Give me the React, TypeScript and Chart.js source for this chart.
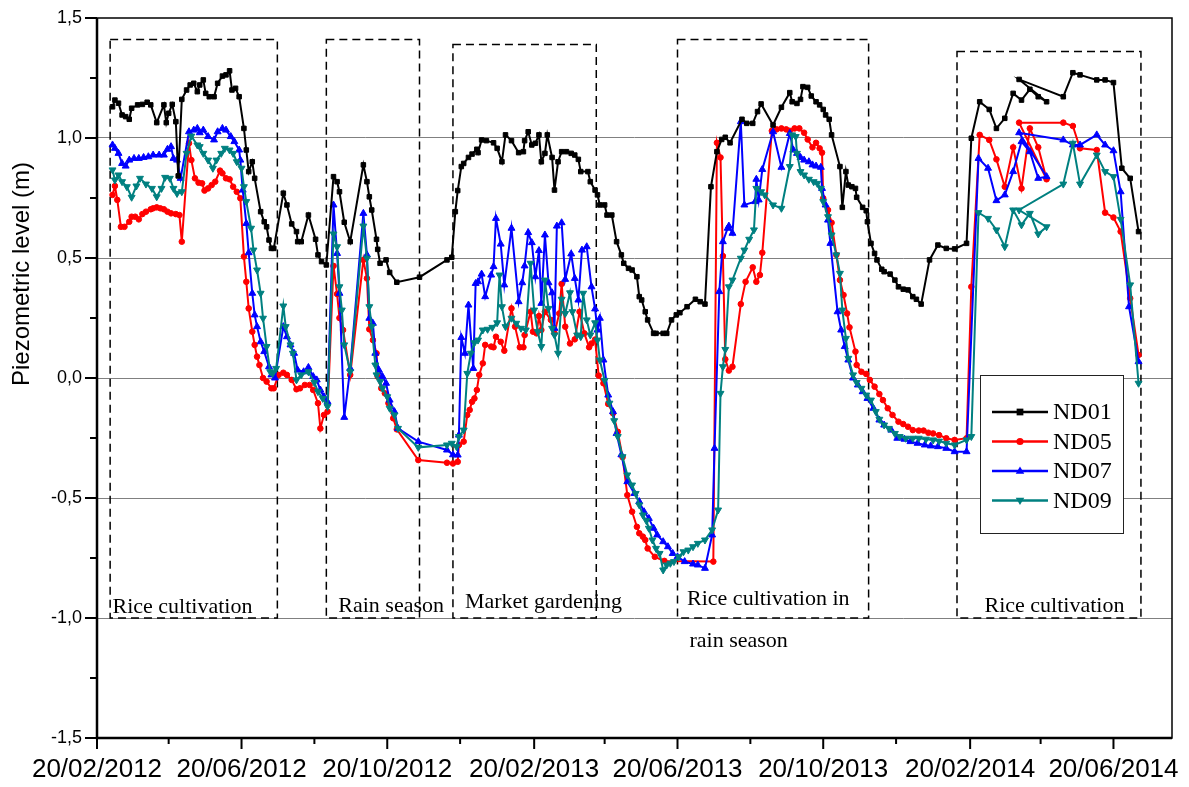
import React, { useEffect, useRef } from "react";
import { Chart, registerables } from "chart.js";

Chart.register(...registerables);

// ---------- DATA ----------
// x values are days counted from 20/02/2012; y values are piezometric levels (m)
const ORIGIN_DATE = "20/02/2012";
const X_MAJOR_TICK_LABELS = ["20/02/2012", "20/06/2012", "20/10/2012", "20/02/2013", "20/06/2013", "20/10/2013", "20/02/2014", "20/06/2014"];
const X_MINOR_TICK_DATES = ["20/04/2012", "20/08/2012", "20/12/2012", "20/04/2013", "20/08/2013", "20/12/2013", "20/04/2014"];
const X_END_DAY = 900;
const Y_MIN = -1.5;
const Y_MAX = 1.5;
const Y_MAJOR_STEP = 0.5;
const Y_MINOR_STEP = 0.25;

const ND01: [number, number][] = [
  [13, 1.13], [15, 1.158], [18, 1.145], [21, 1.096], [24, 1.089], [27, 1.078], [29, 1.124], [34, 1.138], [38, 1.14], [42, 1.149],
  [45, 1.138], [50, 1.064], [56, 1.138], [58, 1.064], [60, 1.103], [63, 1.14], [66, 1.068], [68, 0.842], [71, 1.161], [75, 1.2],
  [78, 1.221], [81, 1.228], [84, 1.193], [86, 1.221], [89, 1.242], [91, 1.186], [94, 1.172], [98, 1.172], [101, 1.228], [105, 1.258],
  [108, 1.263], [111, 1.28], [113, 1.2], [116, 1.207], [119, 1.172], [123, 1.04], [125, 0.95], [127, 0.86], [130, 0.901], [132, 0.832],
  [137, 0.693], [140, 0.651], [142, 0.63], [144, 0.575], [146, 0.54], [148, 0.54], [156, 0.77], [159, 0.721], [163, 0.642], [167, 0.61],
  [168, 0.568], [171, 0.568], [177, 0.679], [183, 0.578], [185, 0.513], [188, 0.485], [192, 0.471], [198, 0.839], [201, 0.818], [203, 0.776],
  [207, 0.649], [212, 0.568], [223, 0.888], [226, 0.818], [228, 0.755], [230, 0.7], [234, 0.578], [235, 0.536], [237, 0.478], [242, 0.492],
  [245, 0.44], [251, 0.399], [270, 0.42], [293, 0.492], [297, 0.503], [300, 0.693], [302, 0.781], [305, 0.881], [307, 0.894], [311, 0.919],
  [314, 0.933], [318, 0.953], [319, 0.939], [322, 0.992], [326, 0.989], [332, 0.98], [335, 0.957], [339, 0.901], [342, 1.013], [347, 0.989],
  [353, 0.939], [357, 0.943], [358, 0.989], [361, 1.026], [364, 0.971], [367, 0.978], [370, 1.013], [372, 0.901], [375, 0.936], [377, 1.013],
  [381, 0.919], [383, 0.783], [386, 0.901], [389, 0.943], [393, 0.943], [397, 0.936], [400, 0.929], [403, 0.911], [405, 0.86], [411, 0.86],
  [413, 0.818], [417, 0.783], [419, 0.763], [421, 0.721], [425, 0.721], [427, 0.679], [431, 0.679], [435, 0.568], [439, 0.513], [441, 0.478],
  [445, 0.457], [448, 0.45], [452, 0.422], [454, 0.339], [456, 0.325], [459, 0.276], [461, 0.242], [466, 0.186], [468, 0.186], [474, 0.186],
  [477, 0.186], [481, 0.242], [485, 0.263], [488, 0.272], [494, 0.297], [501, 0.328], [505, 0.318], [509, 0.308], [514, 0.797], [519, 0.943],
  [523, 0.994], [526, 1.003], [530, 0.98], [540, 1.078], [544, 1.061], [549, 1.061], [553, 1.11], [556, 1.142], [566, 1.054], [573, 1.128],
  [580, 1.189], [582, 1.151], [586, 1.144], [589, 1.161], [591, 1.214], [595, 1.211], [598, 1.175], [602, 1.151], [605, 1.138], [608, 1.119],
  [610, 1.096], [613, 1.078], [615, 1.013], [622, 0.881], [624, 0.711], [627, 0.86], [629, 0.804], [632, 0.797], [635, 0.79], [636, 0.753],
  [641, 0.711], [644, 0.697], [645, 0.651], [648, 0.561], [651, 0.519], [653, 0.492], [657, 0.453], [659, 0.443], [664, 0.433], [668, 0.408],
  [671, 0.38], [675, 0.37], [679, 0.367], [683, 0.339], [686, 0.328], [690, 0.308], [697, 0.492], [704, 0.554], [711, 0.54], [718, 0.538],
  [728, 0.561], [732, 0.999], [739, 1.151], [747, 1.119], [753, 1.04], [760, 1.082], [767, 1.186], [774, 1.158], [781, 1.203], [788, 1.172],
  [795, 1.151], [772, 1.244], [809, 1.172], [817, 1.272], [823, 1.263], [837, 1.242], [844, 1.242], [851, 1.231], [858, 0.874], [865, 0.832],
  [872, 0.61],
];

const ND05: [number, number][] = [
  [13, 0.763], [15, 0.8], [17, 0.742], [20, 0.63], [23, 0.63], [27, 0.651], [29, 0.672], [32, 0.672], [35, 0.661], [38, 0.683],
  [41, 0.693], [45, 0.703], [47, 0.707], [50, 0.711], [53, 0.707], [56, 0.703], [59, 0.693], [62, 0.686], [66, 0.683], [69, 0.679],
  [71, 0.568], [77, 0.978], [79, 0.908], [82, 0.832], [85, 0.814], [88, 0.811], [90, 0.781], [93, 0.79], [96, 0.804], [99, 0.818],
  [103, 0.864], [105, 0.853], [108, 0.832], [111, 0.828], [114, 0.797], [117, 0.776], [120, 0.749], [123, 0.506], [125, 0.401], [127, 0.29],
  [130, 0.193], [132, 0.138], [134, 0.089], [136, 0.054], [139, 0.0], [142, -0.015], [146, -0.043], [148, -0.043], [152, 0.013], [156, 0.022],
  [159, 0.013], [163, -0.008], [167, -0.047], [170, -0.043], [174, -0.029], [178, -0.029], [181, -0.05], [185, -0.105], [187, -0.21], [190, -0.154],
  [193, -0.14], [198, 0.467], [201, 0.35], [203, 0.25], [206, 0.2], [212, 0.013], [223, 0.492], [226, 0.415], [228, 0.203], [231, 0.158],
  [234, 0.103], [235, 0.006], [238, -0.043], [241, -0.064], [244, -0.105], [248, -0.168], [251, -0.214], [269, -0.342], [293, -0.353], [298, -0.356],
  [302, -0.349], [303, -0.279], [307, -0.265], [310, -0.154], [312, -0.133], [314, -0.099], [316, -0.085], [318, -0.05], [320, 0.013], [323, 0.061],
  [325, 0.138], [330, 0.131], [332, 0.128], [334, 0.172], [338, 0.151], [341, 0.114], [347, 0.29], [350, 0.214], [354, 0.128], [357, 0.128],
  [358, 0.179], [363, 0.276], [365, 0.193], [368, 0.186], [370, 0.258], [372, 0.2], [375, 0.276], [380, 0.242], [383, 0.186], [387, 0.269],
  [389, 0.392], [392, 0.214], [396, 0.144], [400, 0.161], [404, 0.276], [408, 0.186], [412, 0.128], [414, 0.144], [417, 0.16], [420, 0.01],
  [424, -0.022], [428, -0.108], [432, -0.147], [436, -0.224], [440, -0.33], [444, -0.488], [448, -0.557], [452, -0.62], [454, -0.647], [457, -0.661],
  [459, -0.675], [461, -0.71], [467, -0.745], [475, -0.762], [516, -0.765], [519, 0.98], [522, 0.919], [524, 0.508], [526, 0.078], [529, 0.031],
  [532, 0.047], [539, 0.308], [543, 0.401], [549, 0.461], [552, 0.401], [555, 0.429], [557, 0.522], [565, 1.03], [569, 1.036], [573, 1.04],
  [577, 1.036], [580, 1.03], [584, 1.04], [588, 1.04], [592, 1.022], [595, 0.994], [599, 0.961], [602, 0.98], [605, 0.957], [607, 0.939],
  [608, 0.749], [612, 0.7], [615, 0.647], [619, 0.513], [622, 0.408], [625, 0.346], [628, 0.269], [630, 0.211], [635, 0.11], [636, 0.054],
  [640, 0.026], [644, 0.017], [647, -0.008], [651, -0.036], [655, -0.067], [658, -0.092], [662, -0.126], [666, -0.154], [671, -0.182], [675, -0.192],
  [679, -0.203], [683, -0.217], [688, -0.219], [692, -0.219], [696, -0.228], [700, -0.231], [705, -0.238], [711, -0.251], [718, -0.258], [728, -0.251],
  [732, 0.38], [739, 1.013], [747, 0.992], [753, 0.911], [760, 0.797], [767, 0.961], [774, 0.79], [781, 1.04], [788, 0.961], [795, 0.828],
  [772, 1.064], [809, 1.064], [817, 1.05], [823, 0.957], [837, 0.95], [844, 0.689], [851, 0.669], [857, 0.61], [865, 0.332], [872, 0.096],
];

const ND07: [number, number][] = [
  [13, 0.971], [15, 0.957], [18, 0.936], [21, 0.894], [24, 0.883], [27, 0.908], [31, 0.915], [35, 0.915], [39, 0.919], [43, 0.922],
  [47, 0.929], [52, 0.929], [56, 0.929], [59, 0.953], [62, 0.964], [64, 0.915], [67, 0.908], [70, 0.832], [77, 1.026], [81, 1.033],
  [84, 1.04], [86, 1.022], [89, 1.033], [93, 1.006], [98, 0.992], [101, 1.026], [105, 1.04], [108, 1.033], [112, 1.006], [115, 0.985],
  [119, 0.95], [120, 0.908], [122, 0.783], [125, 0.644], [127, 0.522], [130, 0.353], [132, 0.263], [134, 0.214], [137, 0.151], [140, 0.11],
  [144, 0.047], [146, 0.013], [149, 0.0], [156, 0.214], [159, 0.172], [162, 0.138], [165, 0.103], [168, 0.033], [173, 0.026], [177, 0.044],
  [181, 0.006], [184, -0.008], [187, -0.05], [190, -0.078], [193, -0.099], [198, 0.721], [201, 0.519], [203, 0.353], [207, -0.164], [212, 0.04],
  [223, 0.686], [226, 0.513], [228, 0.249], [231, 0.228], [233, 0.103], [236, 0.033], [239, 0.006], [242, -0.022], [245, -0.092], [249, -0.14],
  [252, -0.21], [269, -0.265], [293, -0.3], [298, -0.32], [302, -0.321], [303, -0.238], [305, 0.169], [308, 0.103], [311, 0.304], [315, 0.04],
  [317, 0.394], [319, 0.401], [322, 0.433], [325, 0.339], [330, 0.429], [332, 0.464], [334, 0.665], [338, 0.558], [341, 0.388], [347, 0.624],
  [353, 0.318], [356, 0.397], [358, 0.467], [361, 0.606], [364, 0.564], [367, 0.422], [370, 0.531], [372, 0.311], [375, 0.596], [378, 0.397],
  [381, 0.355], [383, 0.207], [385, 0.633], [389, 0.647], [392, 0.411], [397, 0.517], [400, 0.415], [403, 0.325], [406, 0.533], [410, 0.547],
  [414, 0.38], [417, 0.288], [419, 0.2], [421, 0.249], [424, 0.075], [428, -0.071], [432, -0.14], [435, -0.231], [439, -0.32], [444, -0.432],
  [450, -0.481], [454, -0.515], [458, -0.557], [462, -0.585], [466, -0.626], [469, -0.654], [474, -0.682], [478, -0.703], [482, -0.731], [486, -0.745],
  [492, -0.765], [499, -0.775], [503, -0.779], [509, -0.793], [515, -0.654], [517, -0.293], [521, 0.36], [524, 0.568], [528, 0.624], [529, 0.633],
  [532, 0.603], [539, 1.068], [542, 0.721], [551, 0.735], [552, 0.828], [554, 0.742], [557, 0.869], [566, 1.026], [573, 0.878], [580, 1.019],
  [583, 0.95], [586, 0.936], [589, 0.919], [592, 0.908], [596, 0.901], [599, 0.888], [602, 0.883], [606, 0.878], [607, 0.79], [610, 0.721],
  [612, 0.658], [614, 0.561], [620, 0.276], [623, 0.2], [626, 0.131], [629, 0.075], [633, 0.0], [637, -0.029], [641, -0.057], [645, -0.085],
  [650, -0.126], [655, -0.175], [659, -0.196], [665, -0.217], [670, -0.251], [676, -0.255], [681, -0.265], [687, -0.272], [693, -0.279], [698, -0.283],
  [704, -0.286], [711, -0.293], [718, -0.307], [728, -0.307], [738, 0.915], [746, 0.874], [753, 0.739], [760, 0.763], [767, 0.86], [774, 0.985],
  [781, 0.943], [788, 0.832], [795, 0.839], [772, 1.022], [809, 0.992], [817, 0.971], [823, 0.971], [837, 1.013], [844, 0.971], [851, 0.947],
  [857, 0.776], [864, 0.297], [872, 0.068],
];

const ND09: [number, number][] = [
  [13, 0.867], [15, 0.825], [18, 0.846], [21, 0.818], [25, 0.797], [29, 0.753], [33, 0.8], [36, 0.832], [41, 0.808], [46, 0.79],
  [50, 0.755], [54, 0.79], [57, 0.836], [61, 0.832], [64, 0.79], [67, 0.769], [71, 0.776], [75, 0.936], [79, 1.008], [84, 0.971],
  [86, 0.964], [89, 0.936], [93, 0.908], [97, 0.874], [100, 0.908], [104, 0.936], [107, 0.957], [111, 0.95], [114, 0.936], [117, 0.901],
  [121, 0.874], [123, 0.797], [125, 0.735], [129, 0.624], [131, 0.533], [134, 0.45], [137, 0.353], [139, 0.249], [142, 0.131], [145, 0.026],
  [147, 0.019], [150, 0.04], [156, 0.3], [158, 0.214], [162, 0.138], [164, 0.103], [167, -0.008], [171, 0.013], [177, 0.026], [182, -0.019],
  [185, -0.057], [189, -0.085], [193, -0.119], [198, 0.6], [201, 0.547], [203, 0.38], [205, 0.283], [207, 0.138], [212, 0.026], [223, 0.633],
  [226, 0.499], [228, 0.297], [230, 0.214], [233, 0.054], [234, 0.013], [237, -0.015], [239, -0.043], [243, -0.078], [245, -0.126], [249, -0.154],
  [252, -0.21], [269, -0.289], [293, -0.279], [297, -0.272], [301, -0.286], [303, -0.244], [307, -0.217], [310, 0.019], [313, 0.103], [316, 0.147],
  [319, 0.158], [323, 0.2], [327, 0.203], [331, 0.211], [335, 0.23], [337, 0.429], [339, 0.297], [342, 0.214], [347, 0.249], [351, 0.228],
  [355, 0.207], [359, 0.2], [363, 0.478], [366, 0.283], [369, 0.193], [372, 0.131], [375, 0.408], [378, 0.29], [381, 0.207], [383, 0.179],
  [386, 0.103], [389, 0.328], [392, 0.269], [396, 0.355], [398, 0.276], [402, 0.179], [405, 0.172], [407, 0.353], [410, 0.242], [413, 0.179],
  [417, 0.23], [419, 0.158], [421, 0.075], [425, -0.01], [429, -0.105], [433, -0.178], [436, -0.244], [440, -0.328], [444, -0.404], [448, -0.446],
  [451, -0.481], [454, -0.529], [457, -0.571], [460, -0.595], [462, -0.626], [465, -0.675], [468, -0.71], [471, -0.731], [474, -0.8], [477, -0.779],
  [480, -0.772], [483, -0.765], [487, -0.745], [491, -0.724], [495, -0.717], [499, -0.703], [503, -0.689], [509, -0.675], [515, -0.633], [520, -0.55],
  [522, -0.064], [524, 0.047], [526, 0.119], [529, 0.38], [532, 0.408], [539, 0.499], [542, 0.533], [546, 0.578], [550, 0.617], [552, 0.79],
  [556, 0.776], [559, 0.763], [566, 0.721], [573, 0.707], [580, 0.881], [582, 1.013], [585, 1.006], [586, 0.936], [589, 0.86], [592, 0.846],
  [596, 0.828], [600, 0.818], [603, 0.811], [606, 0.79], [608, 0.735], [612, 0.672], [615, 0.596], [619, 0.513], [622, 0.436], [624, 0.283],
  [627, 0.165], [629, 0.082], [633, 0.013], [636, -0.019], [640, -0.043], [644, -0.071], [648, -0.092], [652, -0.14], [655, -0.172], [659, -0.196],
  [663, -0.21], [668, -0.231], [672, -0.244], [677, -0.251], [683, -0.251], [688, -0.251], [694, -0.255], [700, -0.258], [705, -0.263], [711, -0.272],
  [718, -0.279], [728, -0.258], [732, -0.244], [738, 0.689], [746, 0.665], [753, 0.617], [760, 0.547], [767, 0.7], [774, 0.638], [781, 0.686],
  [788, 0.6], [795, 0.63], [772, 0.7], [809, 0.808], [817, 0.978], [823, 0.808], [837, 0.929], [844, 0.86], [851, 0.839], [857, 0.661],
  [865, 0.388], [872, -0.022],
];

const SERIES_NAMES = ["ND01", "ND05", "ND07", "ND09"];
const SERIES_DATA = [ND01, ND05, ND07, ND09];
const SERIES_COLORS = ["#000000", "#ff0000", "#0000ff", "#008080"];
const SERIES_MARKERS = ["rect", "circle", "triangle", "triangleDown"];

// Annotated periods (days from origin, levels in m)
const PERIOD_LABELS = [["Rice cultivation"], ["Rain season"], ["Market gardening"], ["Rice cultivation in", "rain season"], ["Rice cultivation"]];
const PERIOD_START = [11, 192, 298, 486, 720];
const PERIOD_END = [151, 270, 418, 646, 874];
const PERIOD_TOP = [1.41, 1.41, 1.39, 1.41, 1.36];
const PERIOD_BOTTOM = -1.0;
const PERIOD_LABEL_DAYS = [[13], [202], [308], [494], [743]];
const PERIOD_LABEL_LEVELS = [[-0.98], [-0.975], [-0.958], [-0.946], [-0.975]];
const PERIOD_LABEL_DAYS_2 = [[], [], [], [496], []];
const PERIOD_LABEL_LEVELS_2 = [[], [], [], [-1.121], []];

const Y_TITLE = "Piezometric level (m)";

// ---------- HELPERS ----------
const DAY_MS = 86400000;
function parseDate(s: string): number {
  const [d, m, y] = s.split("/").map(Number);
  return Date.UTC(y, m - 1, d);
}
const ORIGIN_MS = parseDate(ORIGIN_DATE);
function dayOf(s: string): number {
  return Math.round((parseDate(s) - ORIGIN_MS) / DAY_MS);
}
function fmtDay(day: number): string {
  const dt = new Date(ORIGIN_MS + day * DAY_MS);
  const dd = String(dt.getUTCDate()).padStart(2, "0");
  const mm = String(dt.getUTCMonth() + 1).padStart(2, "0");
  return `${dd}/${mm}/${dt.getUTCFullYear()}`;
}
const X_MAJOR_DAYS = X_MAJOR_TICK_LABELS.map(dayOf);
const X_MINOR_DAYS = X_MINOR_TICK_DATES.map(dayOf);

function drawMarker(ctx: CanvasRenderingContext2D, kind: string, x: number, y: number, r: number) {
  ctx.beginPath();
  if (kind === "rect") {
    ctx.rect(x - r * 0.75, y - r * 0.75, r * 1.5, r * 1.5);
  } else if (kind === "circle") {
    ctx.arc(x, y, r * 0.8, 0, Math.PI * 2);
  } else if (kind === "triangle") {
    ctx.moveTo(x, y - r);
    ctx.lineTo(x + r * 0.95, y + r * 0.6);
    ctx.lineTo(x - r * 0.95, y + r * 0.6);
    ctx.closePath();
  } else {
    ctx.moveTo(x, y + r);
    ctx.lineTo(x + r * 0.95, y - r * 0.6);
    ctx.lineTo(x - r * 0.95, y - r * 0.6);
    ctx.closePath();
  }
  ctx.fill();
}

const decorPlugin = {
  id: "decor",
  beforeDatasetsDraw(chart: any) {
    const { ctx } = chart;
    const x = chart.scales.x;
    const y = chart.scales.y;
    ctx.save();
    ctx.strokeStyle = "#000";
    ctx.lineWidth = 1.5;
    ctx.setLineDash([8, 5]);
    PERIOD_START.forEach((s, i) => {
      const x0 = x.getPixelForValue(s);
      const x1 = x.getPixelForValue(PERIOD_END[i]);
      const y0 = y.getPixelForValue(PERIOD_TOP[i]);
      const y1 = y.getPixelForValue(PERIOD_BOTTOM);
      ctx.strokeRect(x0, y0, x1 - x0, y1 - y0);
    });
    ctx.setLineDash([]);
    ctx.fillStyle = "#000";
    ctx.font = '22px "Liberation Serif", "Times New Roman", serif';
    ctx.textAlign = "left";
    ctx.textBaseline = "alphabetic";
    PERIOD_LABELS.forEach((lines, i) => {
      ctx.fillText(lines[0], x.getPixelForValue(PERIOD_LABEL_DAYS[i][0]), y.getPixelForValue(PERIOD_LABEL_LEVELS[i][0]));
      if (lines.length > 1) {
        ctx.fillText(lines[1], x.getPixelForValue(PERIOD_LABEL_DAYS_2[i][0]), y.getPixelForValue(PERIOD_LABEL_LEVELS_2[i][0]));
      }
    });
    ctx.restore();
  },
  afterDatasetsDraw(chart: any) {
    const { ctx, chartArea } = chart;
    ctx.save();
    const lx = chartArea.right - 192;
    const ly = chartArea.top + 357;
    const lw = 143;
    const lh = 158;
    ctx.fillStyle = "#fff";
    ctx.fillRect(lx, ly, lw, lh);
    ctx.strokeStyle = "#222";
    ctx.lineWidth = 1;
    ctx.strokeRect(lx + 0.5, ly + 0.5, lw, lh);
    SERIES_NAMES.forEach((name, i) => {
      const ry = ly + 37 + i * 29.5;
      ctx.strokeStyle = SERIES_COLORS[i];
      ctx.fillStyle = SERIES_COLORS[i];
      ctx.lineWidth = 2.5;
      ctx.beginPath();
      ctx.moveTo(lx + 12, ry);
      ctx.lineTo(lx + 68, ry);
      ctx.stroke();
      drawMarker(ctx, SERIES_MARKERS[i], lx + 40, ry, 4.5);
      ctx.fillStyle = "#000";
      ctx.font = '24px "Liberation Serif", "Times New Roman", serif';
      ctx.textAlign = "left";
      ctx.textBaseline = "middle";
      ctx.fillText(name, lx + 73, ry + 1);
    });
    ctx.restore();
  },
  afterDraw(chart: any) {
    const { ctx, chartArea } = chart;
    const x = chart.scales.x;
    const y = chart.scales.y;
    const { left, right, top, bottom } = chartArea;
    ctx.save();
    ctx.strokeStyle = "#000";
    // frame
    ctx.lineWidth = 1.5;
    ctx.strokeRect(left, top, right - left, bottom - top);
    ctx.lineWidth = 2.5;
    ctx.beginPath();
    ctx.moveTo(left, top);
    ctx.lineTo(left, bottom);
    ctx.lineTo(right, bottom);
    ctx.stroke();
    // ticks
    ctx.lineWidth = 2;
    ctx.beginPath();
    X_MAJOR_DAYS.forEach((d) => {
      const px = x.getPixelForValue(d);
      ctx.moveTo(px, bottom);
      ctx.lineTo(px, bottom + 11);
    });
    X_MINOR_DAYS.forEach((d) => {
      const px = x.getPixelForValue(d);
      ctx.moveTo(px, bottom);
      ctx.lineTo(px, bottom + 6);
    });
    for (let v = Y_MIN; v <= Y_MAX + 1e-9; v += Y_MINOR_STEP) {
      const py = y.getPixelForValue(v);
      const major = Math.abs(v / Y_MAJOR_STEP - Math.round(v / Y_MAJOR_STEP)) < 1e-6;
      ctx.moveTo(left, py);
      ctx.lineTo(left - (major ? 12 : 7), py);
    }
    ctx.stroke();
    // y title
    ctx.translate(22, (top + bottom) / 2 - 104);
    ctx.rotate(-Math.PI / 2);
    ctx.fillStyle = "#000";
    ctx.font = '24px "Liberation Sans", Arial, sans-serif';
    ctx.textAlign = "center";
    ctx.textBaseline = "middle";
    ctx.fillText(Y_TITLE, 0, 0);
    ctx.restore();
  },
};

export default function App() {
  const canvasRef = useRef<HTMLCanvasElement | null>(null);

  useEffect(() => {
    if (!canvasRef.current) return;
    Chart.defaults.font.family = '"Liberation Sans", Arial, sans-serif';
    const datasets = SERIES_DATA.map((series, i) => ({
      label: SERIES_NAMES[i],
      data: series.map(([d, v]) => ({ x: d, y: v })),
      borderColor: SERIES_COLORS[i],
      backgroundColor: SERIES_COLORS[i],
      borderWidth: 2,
      tension: 0,
      pointStyle: SERIES_MARKERS[i] === "triangleDown" ? "triangle" : SERIES_MARKERS[i],
      rotation: SERIES_MARKERS[i] === "triangleDown" ? 180 : 0,
      pointRadius: SERIES_MARKERS[i] === "rect" ? 3.2 : SERIES_MARKERS[i] === "circle" ? 2.8 : 4,
      pointBorderWidth: 1,
      pointBorderColor: SERIES_COLORS[i],
      pointBackgroundColor: SERIES_COLORS[i],
      order: [0, 3, 2, 1][i],
    }));

    const chart = new Chart(canvasRef.current, {
      type: "line",
      data: { datasets },
      plugins: [decorPlugin],
      options: {
        responsive: false,
        animation: false,
        devicePixelRatio: 1,
        events: [],
        layout: { padding: { top: 18, right: 17, left: 0, bottom: 0 } },
        plugins: { legend: { display: false }, tooltip: { enabled: false } },
        scales: {
          x: {
            type: "linear",
            min: 0,
            max: X_END_DAY,
            grid: { display: false, drawTicks: false },
            border: { display: false },
            afterBuildTicks: (scale: any) => {
              scale.ticks = X_MAJOR_DAYS.map((v) => ({ value: v }));
            },
            afterFit: (scale: any) => {
              scale.height = 49;
              scale.paddingLeft = 0;
              scale.paddingRight = 0;
            },
            ticks: {
              autoSkip: false,
              maxRotation: 0,
              minRotation: 0,
              padding: 16,
              color: "#000",
              font: { size: 26 },
              callback: (v: any) => fmtDay(Number(v)),
            },
          },
          y: {
            type: "linear",
            min: Y_MIN,
            max: Y_MAX,
            grid: {
              drawTicks: false,
              color: (c: any) => (Math.abs(c.tick.value) > 1.4 ? "rgba(0,0,0,0)" : "#808080"),
              lineWidth: 1,
            },
            border: { display: false },
            afterFit: (scale: any) => {
              scale.width = 97;
              scale.paddingTop = 0;
              scale.paddingBottom = 0;
            },
            ticks: {
              stepSize: Y_MAJOR_STEP,
              padding: 15,
              color: "#000",
              font: { size: 18 },
              callback: (v: any) => Number(v).toFixed(1).replace(".", ","),
            },
          },
        },
      },
    } as any);
    return () => chart.destroy();
  }, []);

  return (
    <div style={{ position: "absolute", left: 0, top: 0, width: 1189, height: 787, background: "#fff" }}>
      <canvas ref={canvasRef} width={1189} height={787} style={{ display: "block" }} />
    </div>
  );
}
